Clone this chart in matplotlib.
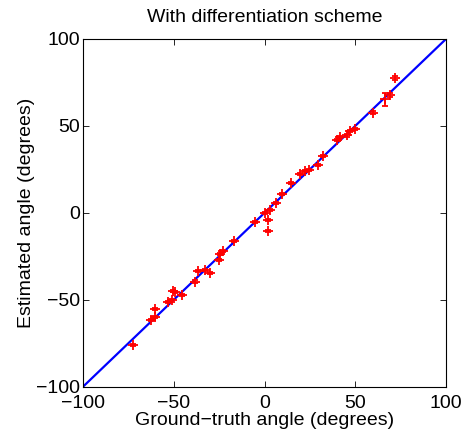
import matplotlib
matplotlib.use('Agg')
import matplotlib.pyplot as plt

plt.rcParams['font.family'] = ['Liberation Sans', 'DejaVu Sans']

# ground truth vs estimated angles (degrees)
truth = [72, 69, 66.4, 60, 50, 47, 45.3, 41.6, 39.8, 32, 29.7, 24.7, 22.3, 19.6,
         14.6, 9.6, 6.2, 3.0, 0, 2.1, 2.1, -5.2, -16.6, -22.7, -24.5, -24.9,
         -30, -32.8, -36.5, -38.3, -45.6, -49.3, -50.2, -51.1, -53, -60.3,
         -60.3, -62.7, -72.6]
estimated = [77.5, 67.7, 65.2, 57.7, 48.1, 47.2, 44.5, 43.7, 41.8, 32.6, 27.4,
             24.5, 23.9, 22.6, 17.2, 10.7, 5.5, 1.8, 0, -4.3, -10.5, -5.3,
             -16.2, -22.0, -23.9, -27.0, -34.5, -32.8, -33.5, -39.5, -47.2,
             -45.6, -44.7, -50.4, -51.4, -55.2, -60.0, -61.6, -75.8]
err = [1, 1, 3.8, 1, 0.6, 0.6, 0.6, 0.6, 0.6, 0.6, 0.6, 0.6, 0.6, 0.6, 0.6,
       0.6, 0.6, 0.6, 0.6, 0.6, 0.6, 0.6, 0.6, 0.6, 0.6, 0.6, 0.6, 0.6, 0.6,
       0.6, 0.6, 0.6, 0.6, 0.6, 0.6, 0.6, 0.6, 0.6, 0.6]
diag = [-100, 100]

fig = plt.figure(figsize=(4.68, 4.37), dpi=100)
ax = fig.add_axes([0.1774, 0.1151, 0.7756, 0.7957])

ax.plot(diag, diag, color='#0000ff', lw=1.6, zorder=2)
ax.errorbar(truth, estimated, yerr=err, fmt='+', color='red', ms=7, mew=1.3,
            elinewidth=1.3, capsize=2.5, capthick=1.3, zorder=3)

ax.set_xlim(-100, 100)
ax.set_ylim(-100, 100)
ax.set_xticks([-100, -50, 0, 50, 100])
ax.set_yticks([-100, -50, 0, 50, 100])
ax.tick_params(direction='in', top=True, right=True, length=4, width=0.6,
               labelsize=14)
ax.tick_params(axis='x', pad=6)
ax.tick_params(axis='y', pad=2)
for s in ax.spines.values():
    s.set_linewidth(0.8)

ax.set_xlabel('Ground\u2212truth angle (degrees)', fontsize=14, labelpad=0)
ax.set_ylabel('Estimated angle (degrees)', fontsize=14, labelpad=1)
ax.set_title('With differentiation scheme', fontsize=14, pad=12)

fig.savefig('out.png', dpi=100)
